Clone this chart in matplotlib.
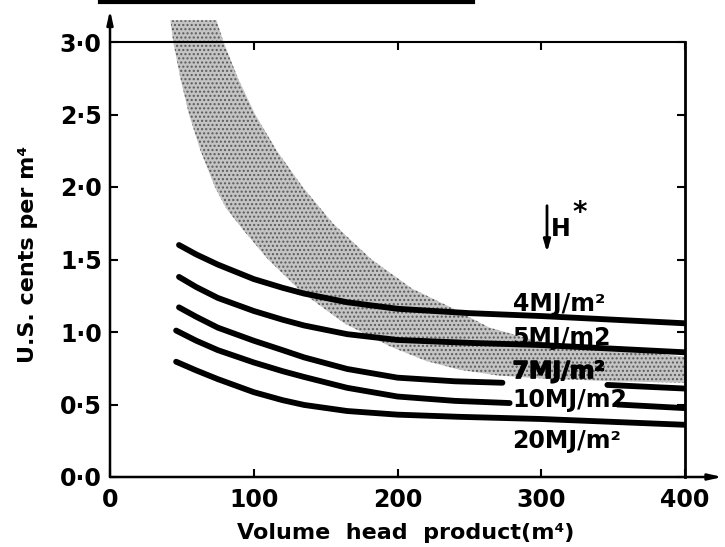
import numpy as np
import matplotlib
matplotlib.use("Agg")
import matplotlib.pyplot as plt
import matplotlib.patheffects as pe
from matplotlib.lines import Line2D

# curves of cost against volume head product, one per irradiation level
x_4mj = [48, 60, 75, 100, 120, 135, 165, 200, 250, 300, 350, 400]
y_4mj = [1.60, 1.535, 1.465, 1.365, 1.305, 1.265, 1.205, 1.16, 1.13, 1.11, 1.085, 1.06]

x_5mj = [48, 60, 75, 100, 120, 135, 165, 200, 250, 300, 350, 400]
y_5mj = [1.38, 1.31, 1.235, 1.145, 1.085, 1.045, 0.985, 0.945, 0.925, 0.91, 0.885, 0.86]

# nan = gap left for the label
x_7mj = [48, 60, 75, 100, 120, 135, 165, 200, 240, 273, 310, 346, 400]
y_7mj = [1.17, 1.105, 1.03, 0.94, 0.875, 0.825, 0.745, 0.685, 0.66, 0.65, np.nan, 0.635, 0.61]

x_10mj = [46, 60, 75, 100, 120, 135, 165, 200, 240, 278, 315, 353, 400]
y_10mj = [1.01, 0.94, 0.875, 0.79, 0.73, 0.69, 0.615, 0.555, 0.525, 0.51, np.nan, 0.50, 0.475]

x_20mj = [46, 60, 75, 100, 120, 135, 165, 200, 243, 300, 350, 400]
y_20mj = [0.795, 0.735, 0.675, 0.585, 0.53, 0.497, 0.455, 0.43, 0.415, 0.40, 0.38, 0.36]

# shaded band (upper/right edge and lower/left edge)
band_up_x = [42, 74, 79, 89, 101, 116, 134, 155, 182, 210, 237, 264, 300, 350, 400]
band_up_y = [3.15, 3.15, 3.0, 2.75, 2.5, 2.25, 2.0, 1.75, 1.5, 1.30, 1.17, 1.03, 0.93, 0.88, 0.83]
band_lo_x = [42, 44, 49, 55, 63, 73, 81, 93, 110, 134, 163, 195, 220, 243, 270, 300, 350, 400]
band_lo_y = [3.15, 3.0, 2.75, 2.5, 2.25, 2.0, 1.85, 1.70, 1.5, 1.27, 1.06, 0.90, 0.80, 0.74, 0.70, 0.68, 0.66, 0.65]

curve_labels = ["4MJ/m²", "5MJ/m2", "7MJ/m²", "10MJ/m2", "20MJ/m²"]
label_y = [1.19, 0.96, 0.73, 0.53, 0.25]

x_ticks = [0, 100, 200, 300, 400]
y_ticks = [0.0, 0.5, 1.0, 1.5, 2.0, 2.5, 3.0]
y_tick_labels = ["0·0", "0·5", "1·0", "1·5", "2·0", "2·5", "3·0"]

plt.rcParams["font.family"] = ["DejaVu Sans"]
plt.rcParams["font.weight"] = "bold"

fig = plt.figure(figsize=(7.25, 5.47), dpi=100)
ax = fig.add_axes([110 / 725, 70 / 547, 575 / 725, 435 / 547])

# band
ax.fill(band_up_x + band_lo_x[::-1], band_up_y + band_lo_y[::-1],
        facecolor="#c4c4c4", edgecolor="#5a5a5a", hatch="....", linewidth=0,
        zorder=1, clip_on=False)

for xs, ys in [(x_4mj, y_4mj), (x_5mj, y_5mj), (x_7mj, y_7mj),
               (x_10mj, y_10mj), (x_20mj, y_20mj)]:
    ax.plot(xs, ys, color="black", linewidth=4.2, solid_capstyle="round", zorder=3)

for i, lab in enumerate(curve_labels):
    t = ax.text(280, label_y[i], lab, fontsize=17, fontweight="bold",
                ha="left", va="center", zorder=4)
    if lab.startswith("7"):
        t.set_path_effects([pe.withStroke(linewidth=1.0, foreground="black")])

# H* marker with arrow
ax.annotate("", xy=(304, 1.53), xytext=(304, 1.89),
            arrowprops=dict(arrowstyle="-|>,head_length=0.7,head_width=0.2",
                            lw=2, color="black"))
ax.text(307, 1.71, "H", fontsize=17, fontweight="bold", ha="left", va="center")
ax.text(321.5, 1.82, "*", fontsize=20, fontweight="bold", ha="left", va="center")

ax.set_xlim(0, 400)
ax.set_ylim(0, 3.0)
ax.set_xticks(x_ticks)
ax.set_xticklabels([str(v) for v in x_ticks])
ax.set_yticks(y_ticks)
ax.set_yticklabels(y_tick_labels)
ax.tick_params(direction="in", top=True, right=True, length=6, width=1.5,
               labelsize=17)
ax.tick_params(axis="x", pad=8)
ax.tick_params(axis="y", pad=6)

# axes drawn with arrows on left and bottom
ax.spines["left"].set_visible(False)
ax.spines["bottom"].set_visible(False)
ax.spines["top"].set_linewidth(1.5)
ax.spines["right"].set_linewidth(2)
ax.annotate("", xy=(0, 3.22), xytext=(0, 0), annotation_clip=False,
            arrowprops=dict(arrowstyle="-|>,head_length=0.8,head_width=0.18",
                            lw=1.8, color="black", shrinkA=0, shrinkB=0))
ax.annotate("", xy=(426, 0), xytext=(0, 0), annotation_clip=False,
            arrowprops=dict(arrowstyle="-|>,head_length=0.8,head_width=0.18",
                            lw=1.8, color="black", shrinkA=0, shrinkB=0))

fig.text(28 / 725, 1 - 254 / 547, "U.S. cents per m⁴", rotation=90,
         fontsize=16, fontweight="bold", ha="center", va="center")
fig.text(406 / 725, 1 - 533 / 547, "Volume  head  product(m⁴)",
         fontsize=16, fontweight="bold", ha="center", va="center")

# black rule at the top edge of the scan
fig.add_artist(Line2D([100 / 725, 473 / 725], [1 - 1.5 / 547, 1 - 1.5 / 547],
                      transform=fig.transFigure, color="black", linewidth=3))

fig.savefig("out.png", dpi=100)
